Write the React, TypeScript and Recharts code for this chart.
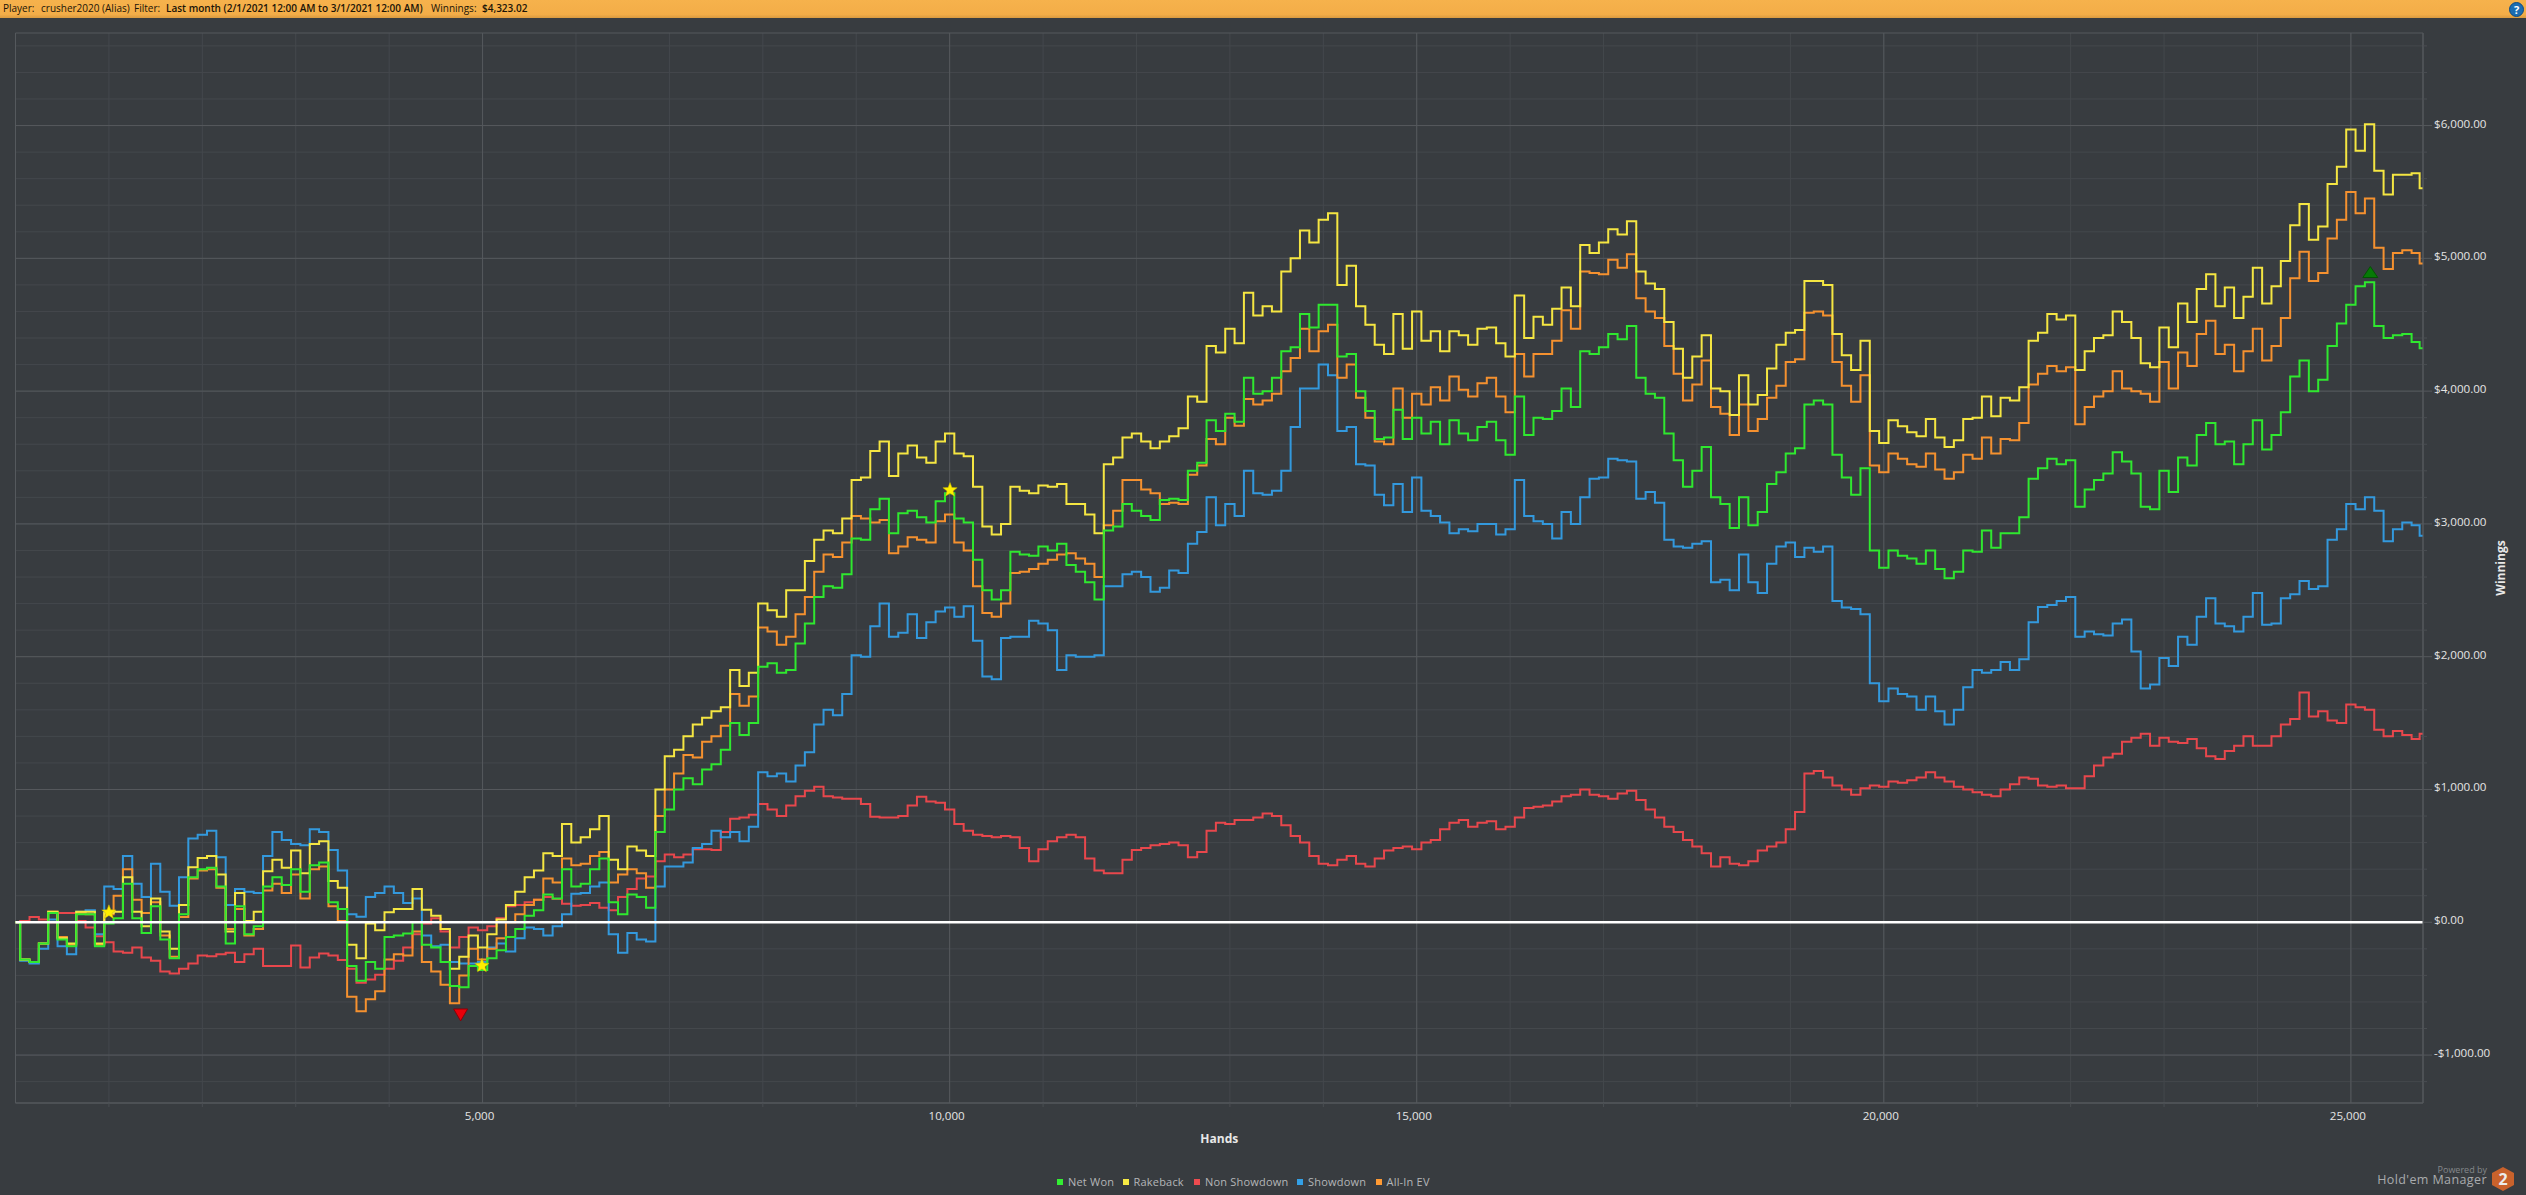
import React from 'react';
import { ComposedChart, Line, Scatter, XAxis, YAxis, CartesianGrid, ReferenceLine, Legend } from 'recharts';

const hands = [
0,100,200,300,400,500,600,700,800,900,1000,1100,1200,1300,1400,1500,1600,1700,1800,1900,
2000,2100,2200,2300,2400,2500,2600,2700,2800,2900,3000,3100,3200,3300,3400,3500,3600,3700,3800,3900,
4000,4100,4200,4300,4400,4500,4600,4700,4800,4900,5000,5100,5200,5300,5400,5500,5600,5700,5800,5900,
6000,6100,6200,6300,6400,6500,6600,6700,6800,6900,7000,7100,7200,7300,7400,7500,7600,7700,7800,7900,
8000,8100,8200,8300,8400,8500,8600,8700,8800,8900,9000,9100,9200,9300,9400,9500,9600,9700,9800,9900,
10000,10100,10200,10300,10400,10500,10600,10700,10800,10900,11000,11100,11200,11300,11400,11500,11600,11700,11800,11900,
12000,12100,12200,12300,12400,12500,12600,12700,12800,12900,13000,13100,13200,13300,13400,13500,13600,13700,13800,13900,
14000,14100,14200,14300,14400,14500,14600,14700,14800,14900,15000,15100,15200,15300,15400,15500,15600,15700,15800,15900,
16000,16100,16200,16300,16400,16500,16600,16700,16800,16900,17000,17100,17200,17300,17400,17500,17600,17700,17800,17900,
18000,18100,18200,18300,18400,18500,18600,18700,18800,18900,19000,19100,19200,19300,19400,19500,19600,19700,19800,19900,
20000,20100,20200,20300,20400,20500,20600,20700,20800,20900,21000,21100,21200,21300,21400,21500,21600,21700,21800,21900,
22000,22100,22200,22300,22400,22500,22600,22700,22800,22900,23000,23100,23200,23300,23400,23500,23600,23700,23800,23900,
24000,24100,24200,24300,24400,24500,24600,24700,24800,24900,25000,25100,25200,25300,25400,25500,25600,25700,25772];

const netWon = [
0,-280,-300,-160,70,-130,-180,60,60,-180,-10,30,290,30,-80,120,-130,-270,60,340,
400,410,270,-160,120,-90,-30,270,340,280,400,230,430,450,150,100,-330,-440,-300,-350,
-110,-100,-85,0,-170,-190,-300,-480,-490,-330,-360,-270,-210,-110,-50,50,90,210,180,400,
270,290,400,480,150,60,210,190,110,680,850,1000,1084,1040,1150,1190,1300,1500,1410,1500,
1925,1950,1880,1900,2100,2250,2450,2530,2520,2620,2890,2880,3110,3190,2930,3080,3100,3050,3010,3170,
3230,3040,3010,2730,2500,2430,2500,2790,2770,2760,2830,2800,2850,2690,2640,2560,2430,2950,2980,3150,
3100,3060,3030,3180,3190,3180,3400,3460,3780,3700,3830,3770,4100,3980,4000,4100,4300,4330,4580,4480,
4650,4650,4260,4280,4000,3850,3640,3650,3860,3640,3800,3680,3770,3600,3780,3680,3630,3730,3770,3630,
3520,3960,3670,3800,3790,3850,4020,3880,4300,4280,4330,4430,4390,4490,4100,3980,3950,3680,3480,3280,
3400,3580,3200,3150,2970,3200,2990,3090,3300,3390,3530,3570,3900,3930,3900,3520,3350,3220,3420,2800,
2670,2800,2760,2740,2700,2800,2660,2590,2640,2800,2790,2950,2820,2930,2930,3050,3340,3420,3490,3450,
3480,3130,3260,3330,3380,3540,3470,3380,3130,3110,3400,3240,3500,3440,3670,3760,3600,3620,3450,3600,
3780,3560,3670,3840,4110,4230,4000,4085,4340,4510,4650,4790,4820,4490,4400,4420,4430,4370,4323];

const rakeback = [
0,-280,-300,-160,80,-120,-160,80,80,-160,70,80,340,80,-30,180,-70,-200,130,415,
485,500,360,-70,220,10,80,385,470,410,540,370,590,610,310,260,-170,-270,-10,-60,
75,100,100,250,95,50,-50,-350,-260,-100,-190,-90,20,130,230,340,390,520,500,740,
600,640,700,800,470,400,570,540,500,1000,1250,1300,1400,1490,1540,1590,1620,1900,1780,1880,
2400,2350,2300,2500,2500,2720,2880,2950,2930,3040,3330,3350,3550,3620,3360,3530,3590,3500,3460,3620,
3680,3530,3510,3280,2980,2920,3000,3280,3250,3230,3290,3280,3300,3150,3150,3070,2930,3450,3500,3650,
3680,3620,3570,3620,3660,3720,3960,3920,4340,4290,4470,4360,4740,4570,4640,4600,4900,5000,5210,5120,
5290,5340,4800,4945,4640,4500,4350,4280,4580,4320,4600,4380,4450,4300,4450,4420,4350,4470,4480,4360,
4260,4720,4400,4560,4500,4620,4780,4640,5100,5040,5120,5220,5180,5280,4900,4810,4770,4520,4320,4100,
4260,4420,4020,4000,3820,4120,3900,3970,4170,4350,4440,4460,4830,4830,4800,4430,4270,4160,4380,3700,
3610,3780,3735,3690,3660,3790,3650,3580,3630,3790,3800,3960,3810,3950,3930,4030,4380,4440,4580,4540,
4570,4160,4300,4400,4420,4600,4520,4400,4210,4180,4480,4330,4660,4520,4770,4880,4640,4780,4550,4710,
4930,4660,4790,4980,5250,5410,5140,5240,5560,5690,5970,5810,6010,5660,5480,5630,5630,5640,5527];

const nonShowdown = [
0,10,40,20,0,70,70,10,-40,-105,-150,-220,-230,-190,-265,-290,-370,-385,-350,-310,
-250,-255,-240,-230,-300,-240,-200,-330,-330,-330,-175,-340,-265,-235,-250,-285,-350,-455,-430,-395,
-350,-290,-190,-90,-10,30,-70,-190,-110,-40,-60,-30,30,120,130,150,170,190,175,140,
125,130,145,110,90,190,250,330,345,460,510,490,510,550,550,545,680,780,790,810,
890,850,800,880,950,990,1020,950,940,930,930,890,795,790,790,800,880,945,910,900,
850,740,690,660,650,640,650,640,560,460,550,610,640,660,640,480,390,370,370,470,
545,560,580,590,600,580,490,530,690,750,740,770,770,790,820,800,730,650,600,500,
440,430,470,500,440,420,480,540,560,570,550,600,620,700,750,770,720,750,760,700,
720,790,860,870,880,910,950,960,1000,960,950,930,970,990,920,850,790,720,680,620,
570,520,420,490,440,430,460,540,570,600,700,830,1120,1140,1090,1030,1000,960,1010,1030,
1020,1060,1050,1070,1090,1130,1090,1060,1020,1000,980,960,950,1000,1040,1090,1080,1030,1020,1030,
1010,1010,1100,1180,1240,1270,1360,1390,1420,1330,1390,1360,1350,1380,1310,1250,1230,1290,1330,1400,
1330,1330,1400,1490,1530,1730,1550,1590,1520,1500,1640,1620,1600,1450,1400,1440,1410,1380,1420];

const showdown = [
0,-290,-310,-200,20,-180,-240,80,90,-90,270,250,500,290,190,440,230,125,340,630,
660,690,490,130,250,230,220,500,680,620,590,580,700,680,545,390,60,42,190,220,
270,220,145,180,-100,-180,-170,-300,-310,-310,-300,-190,-160,-220,-120,-40,-50,-100,-30,60,
215,220,270,300,-90,-230,-80,-130,-145,270,420,420,450,560,590,690,640,680,610,720,
1130,1100,1120,1060,1180,1280,1490,1600,1560,1720,2010,2000,2230,2400,2150,2180,2320,2140,2260,2340,
2370,2300,2380,2120,1850,1830,2140,2150,2150,2270,2250,2200,1900,2010,2000,2000,2010,2530,2530,2620,
2640,2600,2490,2520,2650,2630,2850,2940,3200,2990,3150,3060,3400,3230,3220,3250,3400,3730,4020,4020,
4200,4120,3700,3730,3450,3440,3220,3140,3300,3090,3350,3100,3060,3010,2930,2960,2945,3000,3000,2920,
2960,3330,3060,3020,3000,2890,3090,3000,3200,3340,3350,3490,3480,3470,3190,3240,3160,2880,2830,2820,
2850,2870,2560,2580,2500,2770,2560,2480,2700,2830,2860,2750,2820,2790,2830,2420,2370,2360,2320,1800,
1665,1760,1720,1700,1600,1700,1590,1490,1600,1770,1900,1880,1900,1960,1900,1980,2260,2375,2390,2420,
2450,2150,2190,2170,2160,2250,2280,2040,1760,1790,1990,1930,2150,2090,2300,2440,2250,2230,2190,2300,
2480,2240,2250,2440,2470,2570,2510,2530,2880,2960,3150,3110,3200,3100,2870,2960,3010,2990,2910];

const allInEV = [
0,-280,-300,-160,80,-110,-170,70,60,-170,60,200,400,170,70,150,-100,-260,40,330,
390,400,260,-50,100,-100,-50,240,290,220,360,180,400,420,120,10,-560,-670,-580,-520,
-280,-240,-250,-70,-300,-370,-470,-610,-400,-200,-280,-200,-120,0,60,130,170,330,300,480,
430,440,500,530,300,360,400,370,260,800,1000,1120,1260,1240,1360,1400,1480,1720,1630,1700,
2220,2190,2090,2150,2320,2450,2640,2770,2750,2860,3060,3040,3010,3030,2780,2830,2900,2880,2860,3020,
3070,2860,2800,2530,2330,2300,2400,2630,2640,2660,2700,2730,2770,2780,2740,2700,2600,2990,3100,3330,
3330,3260,3230,3150,3160,3150,3370,3440,3640,3600,3800,3740,3940,3900,3930,3980,4150,4250,4470,4300,
4450,4500,4100,4200,3950,3800,3620,3600,4020,3800,3980,3900,4030,3930,4110,4010,3960,4060,4100,3960,
3840,4280,4110,4280,4280,4380,4610,4470,4900,4890,4880,4990,4930,5030,4700,4600,4550,4340,4130,3930,
4050,4230,3880,3830,3670,3900,3700,3790,3950,4040,4220,4240,4590,4600,4570,4220,4040,3920,4120,3440,
3390,3530,3490,3450,3430,3530,3410,3340,3390,3520,3490,3650,3530,3640,3630,3760,4050,4130,4190,4150,
4180,3750,3880,3960,4000,4150,4020,4000,3980,3920,4220,4020,4290,4190,4430,4530,4280,4350,4150,4300,
4470,4230,4340,4550,4850,5050,4830,4890,5150,5290,5500,5340,5450,5080,4920,5040,5060,5040,4962];

const rows = hands.map((hand, i) => ({
  hand, netWon: netWon[i], rakeback: rakeback[i], nonShowdown: nonShowdown[i], showdown: showdown[i], allInEV: allInEV[i],
}));

const starPoints = [{ hand: 1000, y: 75 }, { hand: 4993, y: -327 }, { hand: 10004, y: 3255 }];
const lowPoints = [{ hand: 4765, y: -698 }];
const highPoints = [{ hand: 25208, y: 4897 }];

const legendItems = [
  { name: 'Net Won', color: '#33ee33', w: 45.5 },
  { name: 'Rakeback', color: '#f7ea44', w: 51.5 },
  { name: 'Non Showdown', color: '#ee4b4f', w: 83 },
  { name: 'Showdown', color: '#33a0e6', w: 58.5 },
  { name: 'All-In EV', color: '#ff9a33', w: 45 },
];

const FONT = '"Open Sans", "Noto Sans", sans-serif';
const xDomain: [number, number] = [0, 25772];
const yDomain: [number, number] = [-1361, 6697];
const xTicks = [1000,2000,3000,4000,5000,6000,7000,8000,9000,10000,11000,12000,13000,14000,15000,16000,17000,18000,19000,20000,21000,22000,23000,24000,25000];
const xMajor = [0,5000,10000,15000,20000,25000,25772];
const yTicks = [-1200,-1000,-800,-600,-400,-200,0,200,400,600,800,1000,1200,1400,1600,1800,2000,2200,2400,2600,2800,3000,3200,3400,3600,3800,4000,4200,4400,4600,4800,5000,5200,5400,5600,5800,6000,6200,6400,6600];
const yMajor = [-1361,-1000,0,1000,2000,3000,4000,5000,6000,6697];

const XTick = (p: any) => {
  const v = p.payload.value;
  const major = v % 5000 === 0;
  return (
    <g>
      {major ? (
        <text x={p.x - 3} y={p.y + 17} textAnchor="middle" fontSize={11.6} fontFamily={FONT} fill="#e4e4e4">{v.toLocaleString('en-US')}</text>
      ) : (
        <line x1={p.x} x2={p.x} y1={p.y} y2={p.y + 4} stroke="#4a4e52" />
      )}
    </g>
  );
};

const YTick = (p: any) => {
  const v = p.payload.value;
  const major = v % 1000 === 0;
  const label = (v < 0 ? '-$' : '$') + Math.abs(v).toLocaleString('en-US', { minimumFractionDigits: 2 });
  return (
    <g>
      <line x1={p.x} x2={p.x + (major ? 9 : 4)} y1={p.y} y2={p.y} stroke={major ? '#55595d' : '#4a4e52'} />
      {major && <text x={p.x + 11} y={p.y + 2} fontSize={11.6} fontFamily={FONT} fill="#e4e4e4">{label}</text>}
    </g>
  );
};

const Star = (p: any) => {
  const pts: string[] = [];
  for (let i = 0; i < 10; i++) {
    const r = i % 2 === 0 ? 7.5 : 3.2;
    const a = -Math.PI / 2 + (i * Math.PI) / 5;
    pts.push(`${p.cx + r * Math.cos(a)},${p.cy + r * Math.sin(a)}`);
  }
  return <polygon points={pts.join(' ')} fill="#ffee00" stroke="#c8b400" strokeWidth={0.5} />;
};
const Down = (p: any) => (
  <polygon points={`${p.cx - 7},${p.cy - 6} ${p.cx + 7},${p.cy - 6} ${p.cx},${p.cy + 6}`} fill="#e8000a" stroke="#8a0008" strokeWidth={1} />
);
const Up = (p: any) => (
  <polygon points={`${p.cx - 7.5},${p.cy + 5.5} ${p.cx + 7.5},${p.cy + 5.5} ${p.cx},${p.cy - 5.5}`} fill="#067a06" stroke="#045204" strokeWidth={1} />
);

const LegendContent = () => (
  <div style={{ display: 'flex', fontFamily: FONT, fontSize: 11, letterSpacing: 0.2, color: '#b4b6b8', lineHeight: '14px' }}>
    {legendItems.map((it) => (
      <div key={it.name} style={{ display: 'flex', alignItems: 'center', marginRight: 9 }}>
        <span style={{ width: 6, height: 6, background: it.color, marginRight: 5, display: 'inline-block' }} />
        <span style={{ width: it.w, whiteSpace: 'nowrap' }}>{it.name}</span>
      </div>
    ))}
  </div>
);

export default function App() {
  return (
    <div style={{ position: 'absolute', left: 0, top: 0, width: 2526, height: 1195, background: '#383c40', overflow: 'hidden' }}>
      <div style={{ position: 'absolute', left: 0, top: 0, width: 2526, height: 18, background: 'linear-gradient(#f6b24c,#f3ad48 80%,#d99a40)', fontFamily: FONT, fontSize: 10, lineHeight: '17px', color: '#1a1408', whiteSpace: 'nowrap' }}>
        <span style={{ position: 'absolute', left: 3 }}>Player:</span>
        <span style={{ position: 'absolute', left: 41 }}>crusher2020 (Alias)</span>
        <span style={{ position: 'absolute', left: 134 }}>Filter:</span>
        <span style={{ position: 'absolute', left: 166, fontWeight: 600 }}>Last month (2/1/2021 12:00 AM to 3/1/2021 12:00 AM)</span>
        <span style={{ position: 'absolute', left: 431 }}>Winnings:</span>
        <span style={{ position: 'absolute', left: 482, fontWeight: 600 }}>$4,323.02</span>
        <svg style={{ position: 'absolute', left: 2509, top: 2 }} width={15} height={15}>
          <circle cx={7.5} cy={7.5} r={7} fill="#1b6db2" stroke="#0e4a80" />
          <text x={7.5} y={11.5} textAnchor="middle" fontSize={11} fontWeight={700} fontFamily={FONT} fill="#fff">?</text>
        </svg>
      </div>
      <ComposedChart
        width={2526}
        height={1195}
        data={rows}
        margin={{ top: 33, right: 0, bottom: 38, left: 15.5 }}
        style={{ position: 'absolute', left: 0, top: 0 }}
      >
        <CartesianGrid stroke="#44484c" horizontalValues={yTicks} verticalValues={xTicks} syncWithTicks={false} />
        <CartesianGrid stroke="#55595d" horizontalValues={yMajor} verticalValues={xMajor} syncWithTicks={false} />
        <XAxis
          dataKey="hand"
          type="number"
          domain={xDomain}
          ticks={xTicks}
          interval={0}
          height={40}
          tickSize={0}
          tickMargin={0}
          axisLine={{ stroke: '#55595d' }}
          tick={XTick}
          label={{ value: 'Hands', position: 'insideBottom', offset: 0, fill: '#e8e8e8', fontSize: 12, fontWeight: 700, fontFamily: FONT }}
        />
        <YAxis
          orientation="right"
          type="number"
          domain={yDomain}
          ticks={yTicks}
          interval={0}
          width={103}
          tickSize={0}
          tickMargin={0}
          axisLine={{ stroke: '#55595d' }}
          tick={YTick}
          label={{ value: 'Winnings', angle: -90, position: 'center', dx: 26, fill: '#e8e8e8', fontSize: 12, fontWeight: 700, fontFamily: FONT }}
        />
        <Legend content={LegendContent} wrapperStyle={{ position: 'absolute', left: 1057, top: 1175, width: 400, bottom: 'auto' }} />
        <Line dataKey="nonShowdown" name="Non Showdown" type="step" stroke="#e8474c" strokeWidth={2} dot={false} activeDot={false} isAnimationActive={false} legendType="none" />
        <Line dataKey="showdown" name="Showdown" type="step" stroke="#3399dd" strokeWidth={2} dot={false} activeDot={false} isAnimationActive={false} legendType="none" />
        <Line dataKey="allInEV" name="All-In EV" type="step" stroke="#f5912f" strokeWidth={2} dot={false} activeDot={false} isAnimationActive={false} legendType="none" />
        <Line dataKey="rakeback" name="Rakeback" type="step" stroke="#f5e642" strokeWidth={2} dot={false} activeDot={false} isAnimationActive={false} legendType="none" />
        <Line dataKey="netWon" name="Net Won" type="step" stroke="#2fe82f" strokeWidth={2} dot={false} activeDot={false} isAnimationActive={false} legendType="none" />
        <ReferenceLine y={0} stroke="#ffffff" strokeWidth={2.5} />
        <Scatter data={starPoints} dataKey="y" shape={Star} isAnimationActive={false} legendType="none" />
        <Scatter data={lowPoints} dataKey="y" shape={Down} isAnimationActive={false} legendType="none" />
        <Scatter data={highPoints} dataKey="y" shape={Up} isAnimationActive={false} legendType="none" />
      </ComposedChart>
      <div style={{ position: 'absolute', right: 39, top: 1163, fontFamily: FONT, fontSize: 9, color: '#85888b' }}>Powered by</div>
      <div style={{ position: 'absolute', right: 39, top: 1171, fontFamily: FONT, fontSize: 12.5, letterSpacing: 0.4, color: '#a9abad' }}>Hold'em Manager</div>
      <svg style={{ position: 'absolute', left: 2490, top: 1166 }} width={26} height={26}>
        <polygon points="13,1 24,7 24,19 13,25 2,19 2,7" fill="#c9622c" />
        <text x={13} y={18.5} textAnchor="middle" fontSize={16} fontWeight={700} fontFamily={FONT} fill="#ececec">2</text>
      </svg>
    </div>
  );
}
